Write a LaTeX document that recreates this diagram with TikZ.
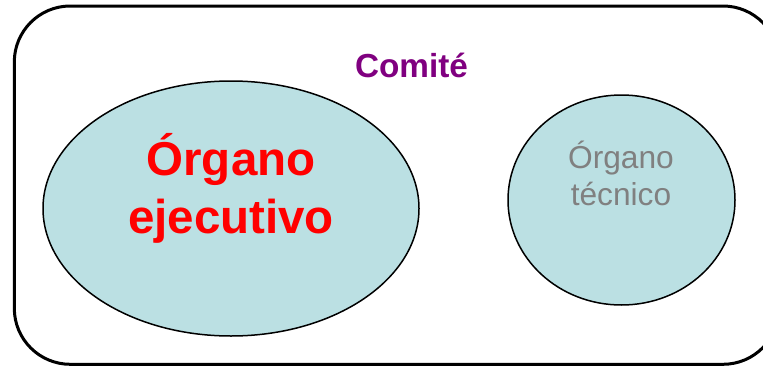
\documentclass[tikz,border=0pt]{standalone}
\usepackage{fontspec}
\setmainfont{Liberation Sans}
\usetikzlibrary{shapes.geometric}
\definecolor{fillblue}{RGB}{187,224,227}
\definecolor{titlepurple}{RGB}{128,0,128}
\definecolor{textgray}{RGB}{128,128,128}
\begin{document}
\begin{tikzpicture}[x=1pt,y=-1pt,
  frame/.style={draw, line width=3pt, rounded corners=56pt, inner sep=0pt, outer sep=0pt, rectangle},
  organ/.style={draw, line width=1.5pt, fill=fillblue, ellipse, inner sep=0pt, outer sep=0pt},
  bigtext/.style={anchor=base, inner sep=0pt, text=red, font=\fontsize{47.5}{58}\selectfont\bfseries},
  smalltext/.style={anchor=base, inner sep=0pt, text=textgray, font=\fontsize{31.7}{37}\selectfont},
  titletext/.style={anchor=base, inner sep=0pt, text=titlepurple, font=\fontsize{33.3}{40}\selectfont\bfseries}]
\clip (0,0) rectangle (763,367);
\node[frame, minimum width=764.7pt, minimum height=358.3pt] (comite) at (396.65,185.15) {};
\node[titletext] (titulo) at (411.5,77) {Comité};
\node[organ, minimum width=376pt, minimum height=255pt] (ejec) at (231,208.5) {};
\node[organ, minimum width=227pt, minimum height=210pt] (tec) at (621.5,200) {};
\node[bigtext] (ej1) at (231,175) {Órgano};
\node[bigtext] (ej2) at (231,233) {ejecutivo};
\node[smalltext] (tc1) at (621,168) {Órgano};
\node[smalltext] (tc2) at (621,205) {técnico};
\end{tikzpicture}
\end{document}
